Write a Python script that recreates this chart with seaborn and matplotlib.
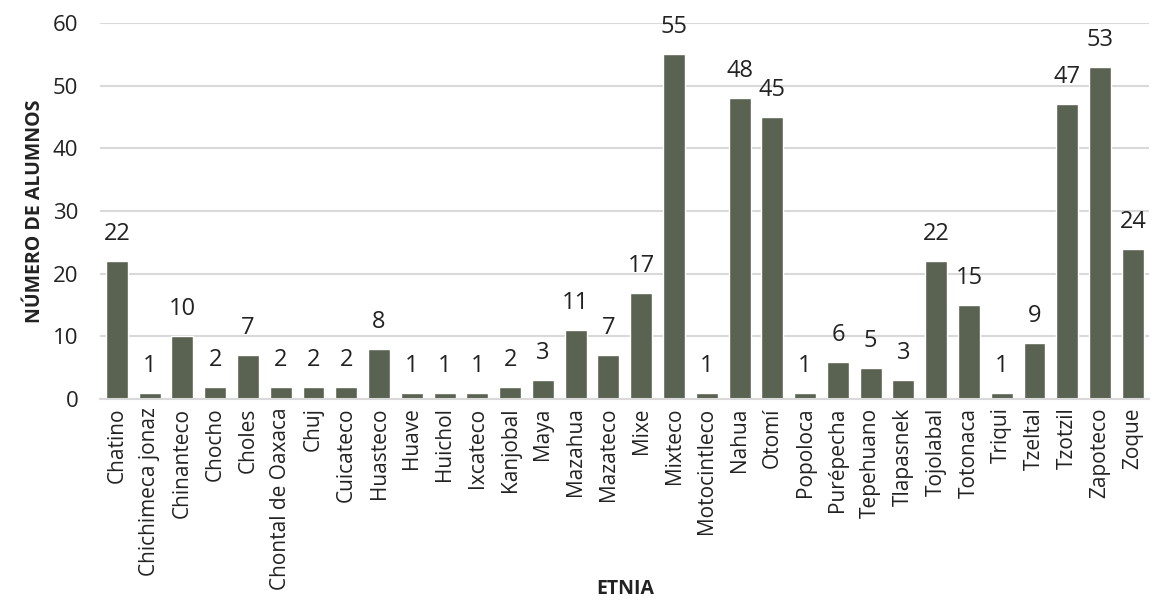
import matplotlib
matplotlib.use("Agg")
import matplotlib.pyplot as plt
import seaborn as sns
import pandas as pd

# Data
etnias = ["Chatino", "Chichimeca jonaz", "Chinanteco", "Chocho", "Choles",
          "Chontal de Oaxaca", "Chuj", "Cuicateco", "Huasteco", "Huave",
          "Huichol", "Ixcateco", "Kanjobal", "Maya", "Mazahua", "Mazateco",
          "Mixe", "Mixteco", "Motocintleco", "Nahua", "Otomí", "Popoloca",
          "Purépecha", "Tepehuano", "Tlapasnek", "Tojolabal", "Totonaca",
          "Triqui", "Tzeltal", "Tzotzil", "Zapoteco", "Zoque"]
alumnos = [22, 1, 10, 2, 7, 2, 2, 2, 8, 1, 1, 1, 2, 3, 11, 7, 17, 55, 1,
           48, 45, 1, 6, 5, 3, 22, 15, 1, 9, 47, 53, 24]

df = pd.DataFrame({"Etnia": etnias, "Alumnos": alumnos})

sns.set_style("white")
plt.rcParams['font.family'] = ['Open Sans', 'DejaVu Sans']

fig = plt.figure(figsize=(11.55, 6.03), dpi=100)
ax = fig.add_axes([0.087, 0.338, 0.908, 0.624])

sns.barplot(data=df, x="Etnia", y="Alumnos", color="#5a6352", width=0.67,
            saturation=1, ax=ax)

# value labels above the bars
for i, v in enumerate(alumnos):
    ax.text(i, v + 2.4, str(v), ha="center", va="bottom", fontsize=17,
            color="#222222")

ax.set_ylim(0, 60)
ax.set_xlim(-0.5, len(etnias) - 0.5)
ax.set_yticks(range(0, 61, 10))
ax.yaxis.grid(True, color="#d9d9d9", linewidth=1.5)
ax.set_axisbelow(True)
for s in ["top", "right", "left"]:
    ax.spines[s].set_visible(False)
ax.spines["bottom"].set_color("#d9d9d9")
ax.spines["bottom"].set_linewidth(1.5)
ax.tick_params(axis="y", length=0, labelsize=16, colors="#222222", pad=16)
ax.tick_params(axis="x", length=0, labelsize=15, colors="#222222", pad=6)
plt.setp(ax.get_xticklabels(), rotation=90)

ax.set_xlabel("ETNIA", fontsize=14, fontweight="bold", color="#222222",
              va="center")
ax.xaxis.set_label_coords(0.5, -0.505)
ax.set_ylabel("NÚMERO DE ALUMNOS", fontsize=14, fontweight="bold",
              color="#222222", va="center")
ax.yaxis.set_label_coords(-0.062, 0.5)

fig.savefig("out.png", dpi=100)
